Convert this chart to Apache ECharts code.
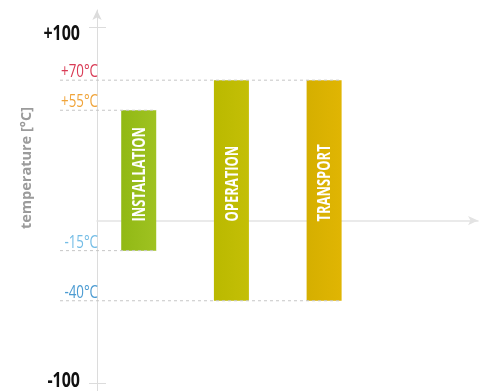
<!DOCTYPE html>
<html><head><meta charset="utf-8">
<script src="https://cdn.jsdelivr.net/npm/echarts@6/dist/echarts.min.js"></script>
<style>html,body{margin:0;padding:0;background:#fff}#c{width:483px;height:391px}</style>
</head><body><div id="c"></div>
<script>
// ---- data ----
const categories = ['INSTALLATION', 'OPERATION', 'TRANSPORT'];
const lowValues = [-15, -40, -40];
const highValues = [55, 70, 70];
const limitValues = [70, 55, -15, -40];
const limitLabels = ['+70°C', '+55°C', '-15°C', '-40°C'];
const axisTickValues = [100, -100];
const axisTickLabels = ['+100', '-100'];
const yAxisTitle = 'temperature [°C]';

// ---- styles / layout ----
const FONT = "'Open Sans','Noto Sans',sans-serif";
const barColors = [['#91b915', '#9fc221'], ['#bab900', '#c4bf06'], ['#d5af00', '#e0b503']];
const limitColors = ['#d93b55', '#f0a43a', '#74bde6', '#4b9bd2'];
const BAR_W = 35;
const X_MIN = 0.55, X_MAX = 4.66;

const chart = echarts.init(document.getElementById('c'), null, {renderer: 'canvas'});
const barData = categories.map((c, i) => [i + 1, lowValues[i], highValues[i]]);
const limitData = limitValues.map((v, i) => [v, i]);
const tickData = axisTickValues.map((v, i) => [v, i]);

chart.setOption({
  animation: false,
  grid: {left: 97, right: 5, top: 10, bottom: 0, outerBoundsMode: 'none', containLabel: false},
  graphic: [{
    type: 'text', x: 27, y: 168, rotation: Math.PI / 2,
    style: {text: yAxisTitle, fill: '#9b9b9b', font: 'bold 14.5px ' + FONT, align: 'center', verticalAlign: 'middle'}
  }],
  xAxis: {
    type: 'value', min: X_MIN, max: X_MAX,
    axisLine: {show: true, onZero: true, onZeroAxisIndex: 1,
      lineStyle: {color: '#e3e3e3', width: 1.5}, symbol: ['none', 'arrow'], symbolSize: [7, 10]},
    axisTick: {show: false}, axisLabel: {show: false}, splitLine: {show: false}
  },
  yAxis: [
    {
      type: 'value', min: -104.5, max: 109.55, position: 'left',
      axisLine: {show: true, onZero: false, lineStyle: {color: '#dcdcdc', width: 1}, symbol: ['none', 'arrow'], symbolSize: [7, 10]},
      axisTick: {show: true, inside: false, length: 8, customValues: axisTickValues, lineStyle: {color: '#dcdcdc'}},
      axisLabel: {show: false},
      splitLine: {show: false}
    },
    {
      type: 'value', min: -85, max: 105, show: false, position: 'right', splitLine: {show: false}
    },
    {
      type: 'value', min: -104.5, max: 109.55, position: 'left',
      axisLine: {show: false}, axisLabel: {show: false}, splitLine: {show: false},
      axisTick: {show: true, inside: true, length: 9, customValues: axisTickValues, lineStyle: {color: '#dcdcdc'}}
    }
  ],
  series: [
    {
      type: 'custom', xAxisIndex: 0, yAxisIndex: 0, z: 3, silent: true,
      data: tickData,
      renderItem: (params, api) => {
        const v = api.value(0);
        const k = api.value(1);
        const p = api.coord([X_MIN, v]);
        return {
          type: 'text', x: params.coordSys.x - 17, y: p[1] + (v > 0 ? 7.5 : -1.5), scaleX: 0.76,
          style: {text: axisTickLabels[k], fill: '#111', font: 'bold 21px ' + FONT, align: 'right', verticalAlign: 'middle'}
        };
      }
    },
    {
      type: 'custom', xAxisIndex: 0, yAxisIndex: 1, z: 2,
      data: barData,
      renderItem: (params, api) => {
        const i = params.dataIndex;
        const x = api.value(0);
        const top = api.coord([x, api.value(2)]);
        const bot = api.coord([x, api.value(1)]);
        const zero = api.coord([x, 0]);
        return {
          type: 'group',
          children: [
            {type: 'rect', shape: {x: top[0] - BAR_W / 2, y: top[1], width: BAR_W, height: bot[1] - top[1]},
              style: {fill: new echarts.graphic.LinearGradient(0, 0, 1, 0, [
                {offset: 0, color: barColors[i][0]}, {offset: 1, color: barColors[i][1]}])}},
            {type: 'text', x: top[0] + 1, y: zero[1] + 1, rotation: Math.PI / 2, scaleX: 0.72,
              style: {text: categories[i], fill: '#fff', font: 'bold 18px ' + FONT, align: 'left', verticalAlign: 'middle'}}
          ]
        };
      }
    },
    {
      type: 'custom', xAxisIndex: 0, yAxisIndex: 1, z: 3,
      data: limitData,
      renderItem: (params, api) => {
        const v = api.value(0);
        const k = api.value(1);
        let endIdx = -1;
        for (let j = 0; j < categories.length; j++) {
          if (lowValues[j] === v || highValues[j] === v) endIdx = j;
        }
        const p = api.coord([endIdx + 1, v]);
        const left = params.coordSys.x;
        return {
          type: 'group',
          children: [
            {type: 'line', shape: {x1: left - 37, y1: p[1], x2: p[0] + BAR_W / 2, y2: p[1]},
              style: {stroke: '#c6c6c6', lineWidth: 1, lineDash: [3, 3]}},
            {type: 'text', x: left + 1, y: p[1] + 1, scaleX: 0.74,
              style: {text: limitLabels[k], fill: limitColors[k], font: '18px ' + FONT, align: 'right', verticalAlign: 'bottom'}}
          ]
        };
      }
    }
  ]
});
</script></body></html>
